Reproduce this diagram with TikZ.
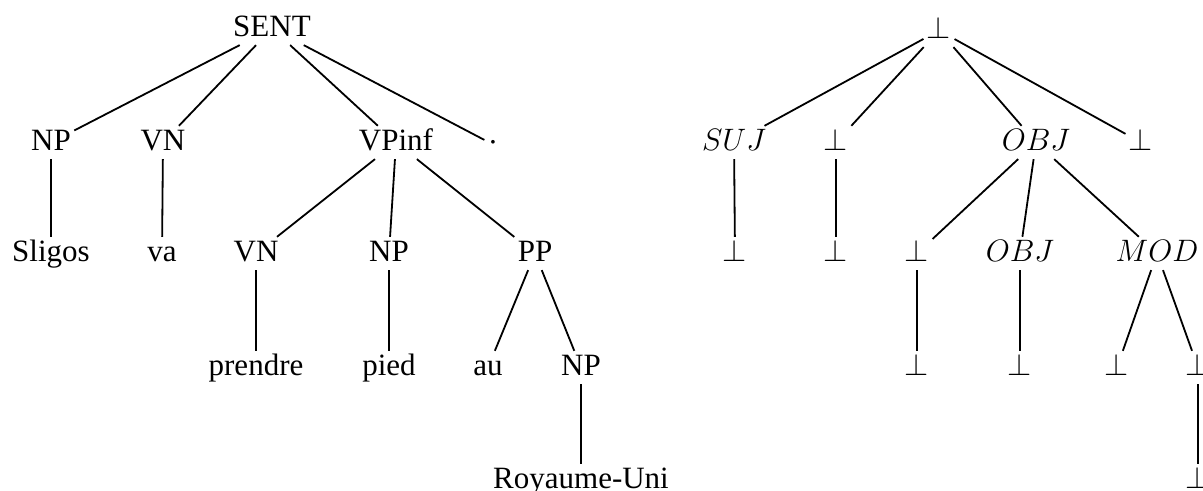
\documentclass[tikz,border=0pt]{standalone}
\usepackage{fontspec}
\setmainfont{Liberation Serif}
\usepackage{tikz}
\tikzset{lab/.style={anchor=base, inner sep=1pt, text height=8.4pt, text depth=1.8pt, font=\fontsize{12}{14}\selectfont}}
\tikzset{every path/.style={line width=0.7pt}}

\begin{document}
\begin{tikzpicture}[x=0.387pt, y=-0.387pt]
      \useasboundingbox (0, 0) rectangle (1203, 491);
      % left tree
      \node[lab] (S) at (272, 37) {SENT};
      \node[lab] (NPa) at (51, 151) {NP};
      \node[lab] (VNa) at (163, 151) {VN};
      \node[lab] (VPi) at (396, 151) {VPinf};
      \node[lab] (P) at (493, 153) {\textperiodcentered};
      \node[lab] (Sl) at (51, 262) {Sligos};
      \node[lab] (va) at (162, 262) {va};
      \node[lab] (VNb) at (256, 262) {VN};
      \node[lab] (NPb) at (389, 262) {NP};
      \node[lab] (PP) at (535, 262) {PP};
      \node[lab] (pr) at (256, 376) {prendre};
      \node[lab] (pi) at (389, 376) {pied};
      \node[lab] (au) at (488, 376) {au};
      \node[lab] (NPc) at (581, 376) {NP};
      \node[lab] (RU) at (581, 489) {Royaume-Uni};
      \draw (S) -- (NPa);
      \draw (S) -- (VNa);
      \draw (S) -- (VPi);
      \draw (S) -- (P);
      \draw (NPa) -- (Sl);
      \draw (VNa) -- (va);
      \draw (VPi) -- (VNb);
      \draw (VPi) -- (NPb);
      \draw (VPi) -- (PP);
      \draw (VNb) -- (pr);
      \draw (NPb) -- (pi);
      \draw (PP) -- (au);
      \draw (PP) -- (NPc);
      \draw (NPc) -- (RU);
      % right tree
      \node[lab] (R) at (939, 39) {$\bot$};
      \node[lab] (SUJ) at (734, 151) {$SUJ$};
      \node[lab] (Ba) at (836, 151) {$\bot$};
      \node[lab] (OBJa) at (1036, 151) {$OBJ$};
      \node[lab] (Bb) at (1141, 151) {$\bot$};
      \node[lab] (Bc) at (735, 262) {$\bot$};
      \node[lab] (Bd) at (836, 262) {$\bot$};
      \node[lab] (Be) at (917, 262) {$\bot$};
      \node[lab] (OBJb) at (1020, 262) {$OBJ$};
      \node[lab] (MOD) at (1157, 262) {$MOD$};
      \node[lab] (Bf) at (917, 376) {$\bot$};
      \node[lab] (Bg) at (1020, 376) {$\bot$};
      \node[lab] (Bh) at (1117, 376) {$\bot$};
      \node[lab] (Bi) at (1198, 376) {$\bot$};
      \node[lab] (Bj) at (1198, 489) {$\bot$};
      \draw (R) -- (SUJ);
      \draw (R) -- (Ba);
      \draw (R) -- (OBJa);
      \draw (R) -- (Bb);
      \draw (SUJ) -- (Bc);
      \draw (Ba) -- (Bd);
      \draw (OBJa) -- (Be);
      \draw (OBJa) -- (OBJb);
      \draw (OBJa) -- (MOD);
      \draw (Be) -- (Bf);
      \draw (OBJb) -- (Bg);
      \draw (MOD) -- (Bh);
      \draw (MOD) -- (Bi);
      \draw (Bi) -- (Bj);
    \end{tikzpicture}
\end{document}
